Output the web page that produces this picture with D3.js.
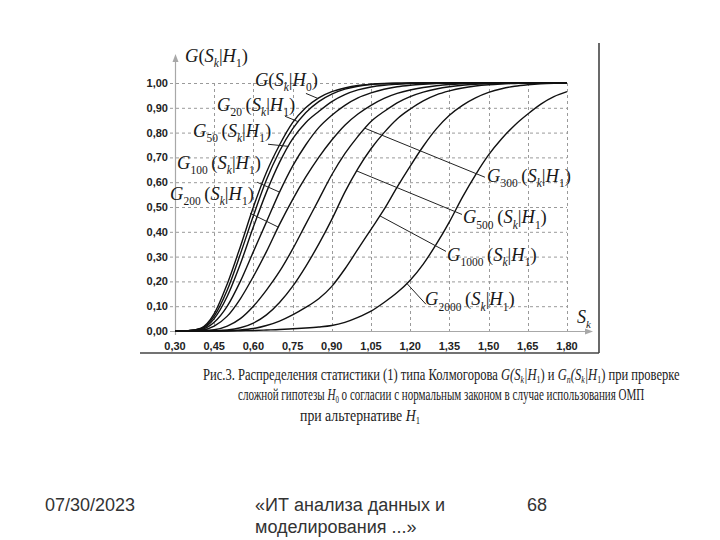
<!DOCTYPE html>
<html><head><meta charset="utf-8">
<script src="https://cdn.jsdelivr.net/npm/d3@7/dist/d3.min.js"></script>
<style>body{margin:0;background:#fff}svg{display:block}</style>
</head><body>
<svg id="c" width="720" height="540"></svg>
<script>
// ---- data ----
const sGrid = [0.30,0.35,0.40,0.45,0.50,0.55,0.60,0.65,0.70,0.75,0.80,0.85,0.90,0.95,1.00,1.05,1.10,1.15,1.20,1.25,1.30,1.35,1.40,1.45,1.50,1.55,1.60,1.65,1.70,1.75,1.80];
const gH0   = [0,0.001,0.012,0.07,0.19,0.34,0.50,0.64,0.75,0.84,0.90,0.94,0.965,0.98,0.99,0.995,0.998,0.999,1,1,1,1,1,1,1,1,1,1,1,1,1];
const g20   = [0,0.001,0.010,0.06,0.165,0.31,0.465,0.61,0.725,0.815,0.88,0.925,0.955,0.975,0.987,0.994,0.997,0.999,1,1,1,1,1,1,1,1,1,1,1,1,1];
const g50   = [0,0.001,0.008,0.05,0.14,0.27,0.42,0.56,0.68,0.775,0.84,0.885,0.925,0.953,0.972,0.984,0.991,0.995,0.998,1,1,1,1,1,1,1,1,1,1,1,1];
const g100  = [0,0.001,0.006,0.035,0.10,0.20,0.32,0.44,0.56,0.665,0.75,0.82,0.87,0.91,0.94,0.96,0.975,0.985,0.991,0.995,0.998,1,1,1,1,1,1,1,1,1,1];
const g200  = [0,0,0.003,0.02,0.06,0.13,0.22,0.32,0.43,0.53,0.62,0.70,0.77,0.83,0.875,0.91,0.938,0.958,0.972,0.982,0.989,0.994,0.997,0.999,1,1,1,1,1,1,1];
const g300  = [0,0,0.001,0.005,0.02,0.05,0.10,0.165,0.24,0.33,0.43,0.53,0.63,0.715,0.785,0.845,0.885,0.92,0.945,0.963,0.976,0.985,0.991,0.995,0.998,1,1,1,1,1,1];
const g500  = [0,0,0,0.001,0.004,0.013,0.032,0.065,0.115,0.18,0.26,0.35,0.45,0.56,0.655,0.735,0.80,0.855,0.895,0.928,0.952,0.968,0.98,0.988,0.993,0.996,0.998,1,1,1,1];
const g1000 = [0,0,0,0,0.001,0.004,0.01,0.022,0.04,0.065,0.095,0.13,0.18,0.25,0.33,0.41,0.49,0.58,0.665,0.745,0.815,0.87,0.91,0.94,0.962,0.977,0.987,0.993,0.997,0.999,1];
const g2000 = [0,0,0,0,0,0.001,0.002,0.004,0.006,0.009,0.012,0.016,0.022,0.035,0.055,0.08,0.115,0.155,0.205,0.27,0.35,0.44,0.54,0.63,0.71,0.775,0.83,0.875,0.915,0.945,0.965];

const xTicks = [0.30,0.45,0.60,0.75,0.90,1.05,1.20,1.35,1.50,1.65,1.80];
const yTicks = [0,0.1,0.2,0.3,0.4,0.5,0.6,0.7,0.8,0.9,1.0];

// curve labels: subscript of G, condition subscript, label anchor (data coords), leader start (data coords), leader target S on the curve
const curveNames = ["H0","20","50","100","200","300","500","1000","2000"];
const curveValues = [gH0,g20,g50,g100,g200,g300,g500,g1000,g2000];
const labelSub  = ["", "20","50","100","200","300","500","1000","2000"];
const labelCond = ["0","1","1","1","1","1","1","1","1"];
const labelS    = [0.606,0.461,0.369,0.308,0.281,1.494,1.402,1.341,1.257];
const labelG    = [0.987,0.886,0.781,0.652,0.527,0.600,0.434,0.281,0.103];
const leadS     = [0.801,0.721,0.656,0.614,0.587,1.486,1.398,1.337,1.260];
const leadG     = [0.958,0.866,0.753,0.600,0.475,0.620,0.470,0.321,0.108];
const targetS   = [0.847,0.772,0.734,0.700,0.695,1.027,0.995,1.084,1.187];

// ---- drawing ----
const svg = d3.select("#c");
const x = d3.scaleLinear().domain([0.30,1.80]).range([175,567]);
const y = d3.scaleLinear().domain([0,1]).range([331,83]);
const fmt = v => d3.format(".2f")(v).replace(".", ",");
const serif = "'Liberation Serif','DejaVu Serif',serif";
const sans = "'Liberation Sans',Arial,sans-serif";

// frame of the pasted picture
svg.append("line").attr("x1",140).attr("x2",599).attr("y1",353).attr("y2",353).attr("stroke","#444").attr("stroke-width",1.6);
svg.append("line").attr("x1",599).attr("x2",599).attr("y1",43).attr("y2",353).attr("stroke","#444").attr("stroke-width",1.6);

// grid
const grid = svg.append("g").attr("stroke","#9a9a9a").attr("stroke-width",1).attr("stroke-dasharray","3,3").attr("fill","none");
grid.selectAll("line.h").data(yTicks.filter(d=>d>0)).join("line")
  .attr("x1",170).attr("x2",x(1.80)).attr("y1",d=>y(d)+0.5).attr("y2",d=>y(d)+0.5);
grid.selectAll("line.v").data(xTicks.filter(d=>d>0.30)).join("line")
  .attr("x1",d=>Math.round(x(d))+0.5).attr("x2",d=>Math.round(x(d))+0.5).attr("y1",y(1)).attr("y2",y(0)+4);

// axes (arrows)
const axisCol = "#a8a8a8";
svg.append("line").attr("x1",x(0.30)+0.5).attr("x2",x(0.30)+0.5).attr("y1",y(0)+4).attr("y2",60).attr("stroke",axisCol).attr("stroke-width",1.2);
svg.append("path").attr("d",`M${x(0.30)+0.5},54 l-3,8 l6,0 z`).attr("fill",axisCol);
svg.append("line").attr("x1",170).attr("x2",586).attr("y1",y(0)+0.5).attr("y2",y(0)+0.5).attr("stroke",axisCol).attr("stroke-width",1.2);
svg.append("path").attr("d",`M593,${y(0)+0.5} l-8,-3 l0,6 z`).attr("fill",axisCol);

// tick labels
svg.append("g").selectAll("text").data(yTicks).join("text")
  .attr("x",168).attr("y",d=>y(d)+4).attr("text-anchor","end")
  .attr("font-family",sans).attr("font-weight","bold").attr("font-size",11).attr("fill","#222")
  .text(fmt);
svg.append("g").selectAll("text").data(xTicks).join("text")
  .attr("x",d=>x(d)).attr("y",350).attr("text-anchor","middle")
  .attr("font-family",sans).attr("font-weight","bold").attr("font-size",11).attr("fill","#222")
  .text(fmt);

// curves
const line = d3.line().x((d,i)=>x(sGrid[i])).y(d=>y(d)).curve(d3.curveMonotoneX);
svg.append("g").selectAll("path").data(curveValues).join("path")
  .attr("d",line).attr("fill","none").attr("stroke","#111").attr("stroke-width",1.4);

// math-style label helper
function mathLabel(px, py, sub, cond, size) {
  const t = svg.append("text").attr("x",px).attr("y",py)
    .attr("font-family",serif).attr("font-size",size).attr("fill","#1a1a1a");
  const sh = size*0.28, ss = size*0.62;
  t.append("tspan").attr("font-style","italic").text("G");
  if (sub) { t.append("tspan").attr("font-size",ss).attr("dy",sh).text(sub);
             t.append("tspan").attr("dy",-sh).text("\u2009("); }
  else t.append("tspan").text("(");
  t.append("tspan").attr("font-style","italic").text("S");
  t.append("tspan").attr("font-style","italic").attr("font-size",ss).attr("dy",sh).text("k");
  t.append("tspan").attr("dy",-sh).text("|");
  t.append("tspan").attr("font-style","italic").text("H");
  t.append("tspan").attr("font-size",ss).attr("dy",sh).text(cond);
  t.append("tspan").attr("dy",-sh).text(")");
  return t;
}

// interpolate a curve value
function valueAt(vals, s) {
  const i = Math.min(sGrid.length-2, Math.floor((s-0.30)/0.05+1e-9));
  const t = (s - sGrid[i])/(sGrid[i+1]-sGrid[i]);
  return vals[i] + t*(vals[i+1]-vals[i]);
}

// leaders + labels
curveNames.forEach((n,i)=>{
  svg.append("line").attr("x1",x(leadS[i])).attr("y1",y(leadG[i]))
    .attr("x2",x(targetS[i])).attr("y2",y(valueAt(curveValues[i],targetS[i])))
    .attr("stroke","#222").attr("stroke-width",1);
  mathLabel(x(labelS[i]), y(labelG[i]), labelSub[i], labelCond[i], 18.5);
});

// axis titles
mathLabel(x(0.30)+10, 62, "", "1", 18.5);
const sk = svg.append("text").attr("x",577).attr("y",323).attr("font-family",serif).attr("font-size",18).attr("fill","#1a1a1a");
sk.append("tspan").attr("font-style","italic").text("S");
sk.append("tspan").attr("font-style","italic").attr("font-size",11).attr("dy",5).text("k");

// caption: each line is scaled horizontally to its width in the reference
function cap(px, py, len, parts) {
  const g = svg.append("g");
  const t = g.append("text").attr("x",0).attr("y",0).attr("font-family",serif)
    .attr("font-size",16).attr("fill","#222");
  parts.forEach(p=>{
    const s = t.append("tspan").text(p[0]);
    if (p[1]) s.attr("font-style","italic");
    if (p[2]) s.attr("dy",p[2]);
    if (p[3]) s.attr("font-size",p[3]);
  });
  const w = t.node().getBBox().width;
  g.attr("transform",`translate(${px},${py}) scale(${len/w},1)`);
}
cap(203, 380, 477, [["Рис.3. Распределения статистики (1) типа Колмогорова "],["G(S",1],["k",1,3,10],["|H",1,-3],["1",0,3,10],[") и ",0,-3],["G",1],["n",1,3,10],["(S",1,-3],["k",1,3,10],["|H",1,-3],["1",0,3,10],[") при проверке",0,-3]]);
cap(238, 400, 407, [["сложной гипотезы "],["H",1],["0",0,3,10],[" о согласии с нормальным законом в случае использования ОМП",0,-3]]);
cap(300, 421, 120, [["при альтернативе "],["H",1],["1",0,3,10]]);

// footer
const foot = [["07/30/2023",45,511],["«ИТ анализа данных и",255,511],["моделирования ...»",255,533],["68",527,511]];
svg.append("g").selectAll("text").data(foot).join("text")
  .attr("x",d=>d[1]).attr("y",d=>d[2]).attr("font-family",sans).attr("font-size",18).attr("fill","#333")
  .text(d=>d[0]);
</script>
</body></html>
